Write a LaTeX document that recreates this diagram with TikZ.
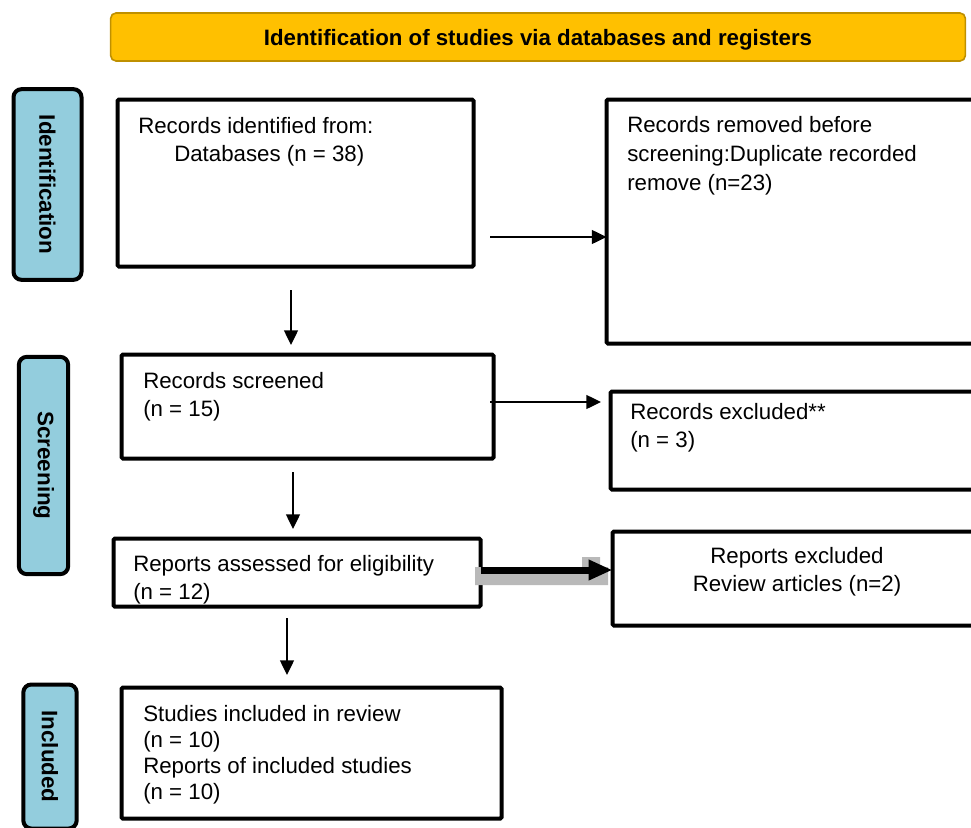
\documentclass[tikz,border=0pt]{standalone}
\usepackage{fontspec}
\setmainfont{Liberation Sans}
\usetikzlibrary{arrows.meta}
\definecolor{bannerfill}{HTML}{FFC000}
\definecolor{bannerline}{HTML}{BF9000}
\definecolor{sidefill}{HTML}{93CDDD}
\begin{document}
\begin{tikzpicture}[x=0.75pt,y=-0.75pt,
  banner/.style={draw=bannerline, fill=bannerfill, line width=1.2pt, rounded corners=4pt,
    minimum width=641pt, minimum height=36pt, inner sep=0pt, text height=16.5pt, text depth=3.5pt,
    font=\fontsize{16.7}{20}\selectfont\bfseries},
  side/.style={draw=black, fill=sidefill, line width=3pt, rounded corners=6pt, rotate=-90,
    inner sep=0pt, font=\fontsize{16.8}{20}\selectfont\bfseries},
  boxx/.style={draw=black, line width=3pt, rounded corners=1pt, anchor=north west, inner sep=0pt, outer sep=0pt},
  txt/.style={inner sep=0pt, align=left, anchor=base west, font=\fontsize{16.7}{20.5}\selectfont},
  arr/.style={line width=1pt, -{Triangle[length=11pt,width=10.5pt]}},
  bigarr/.style={line width=5.25pt, -{Triangle[length=18pt,width=14.5pt]}}
]
\useasboundingbox (0,0) rectangle (971,828);

% banner
\node[banner] (title) at (538,37) {Identification of studies via databases and registers};

% side labels
\node[side, minimum width=143pt, minimum height=51pt] (sid) at (47.5,184.5) {Identification};
\node[side, minimum width=163pt, minimum height=37pt] (sscr) at (43.5,465.5) {Screening};
\node[side, minimum width=108pt, minimum height=40pt] (sinc) at (50,756.5) {Included};

% boxes
\node[boxx, minimum width=267pt, minimum height=125.25pt] (b1) at (117.5,99.5) {};
\node[boxx, minimum width=290pt, minimum height=183pt] (rem) at (606.5,99.5) {};
\node[boxx, minimum width=279pt, minimum height=78pt] (scr) at (121.5,354.5) {};
\node[boxx, minimum width=285pt, minimum height=73.5pt] (exc) at (610.5,391.5) {};
\node[boxx, minimum width=275.25pt, minimum height=51pt] (rep) at (113.5,538.5) {};
\node[boxx, minimum width=285pt, minimum height=70.5pt] (rex) at (612.5,531.5) {};
\node[boxx, minimum width=285pt, minimum height=98.25pt] (inc) at (121.5,687.5) {};

% texts (base anchor = baseline of last line)
\node[txt] (t1a) at (138,133) {Records identified from:};
\node[txt] (t1b) at (174,161) {Databases (n = 38)};
\node[txt] (t2) at (627,190) {Records removed before\\[0.9pt]screening:Duplicate recorded\\[0.9pt]remove (n=23)};
\node[txt] (t3) at (143,416) {Records screened\\(n = 15)};
\node[txt] (t4) at (630,447) {Records excluded**\\(n = 3)};
\node[txt] (t5) at (133,599) {Reports assessed for eligibility\\(n = 12)};
\node[txt, align=center, anchor=base] (t6) at (797,591) {Reports excluded\\Review articles (n=2)};
\node[txt, font=\fontsize{16.7}{19.5}\selectfont] (t7) at (143,799) {Studies included in review\\(n = 10)\\Reports of included studies\\(n = 10)};

% connectors
\coordinate (a1s) at (490,237);
\draw[arr] (a1s) -- (a1s -| rem.west);
\coordinate (a2s) at (291,290);
\coordinate (a2e) at (291,345);
\draw[arr] (a2s) -- (a2e);
\coordinate (a3s) at (490,402);
\coordinate (a3e) at (601,402);
\draw[arr] (a3s) -- (a3e);
\coordinate (a4s) at (293,472);
\coordinate (a4e) at (293,529);
\draw[arr] (a4s) -- (a4e);
\coordinate (a5s) at (287,618);
\coordinate (a5e) at (287,675);
\draw[arr] (a5s) -- (a5e);

% thick arrow with shadow
\fill[gray!55] (475,567) -- (582,567) -- (582,557) -- (600,557) -- (600,567) -- (608,567) -- (608,585) -- (475,585) -- cycle;
\coordinate (bas) at (rep.east |- 0,570);
\draw[bigarr] (bas) -- (bas -| rex.west);
\end{tikzpicture}
\end{document}
